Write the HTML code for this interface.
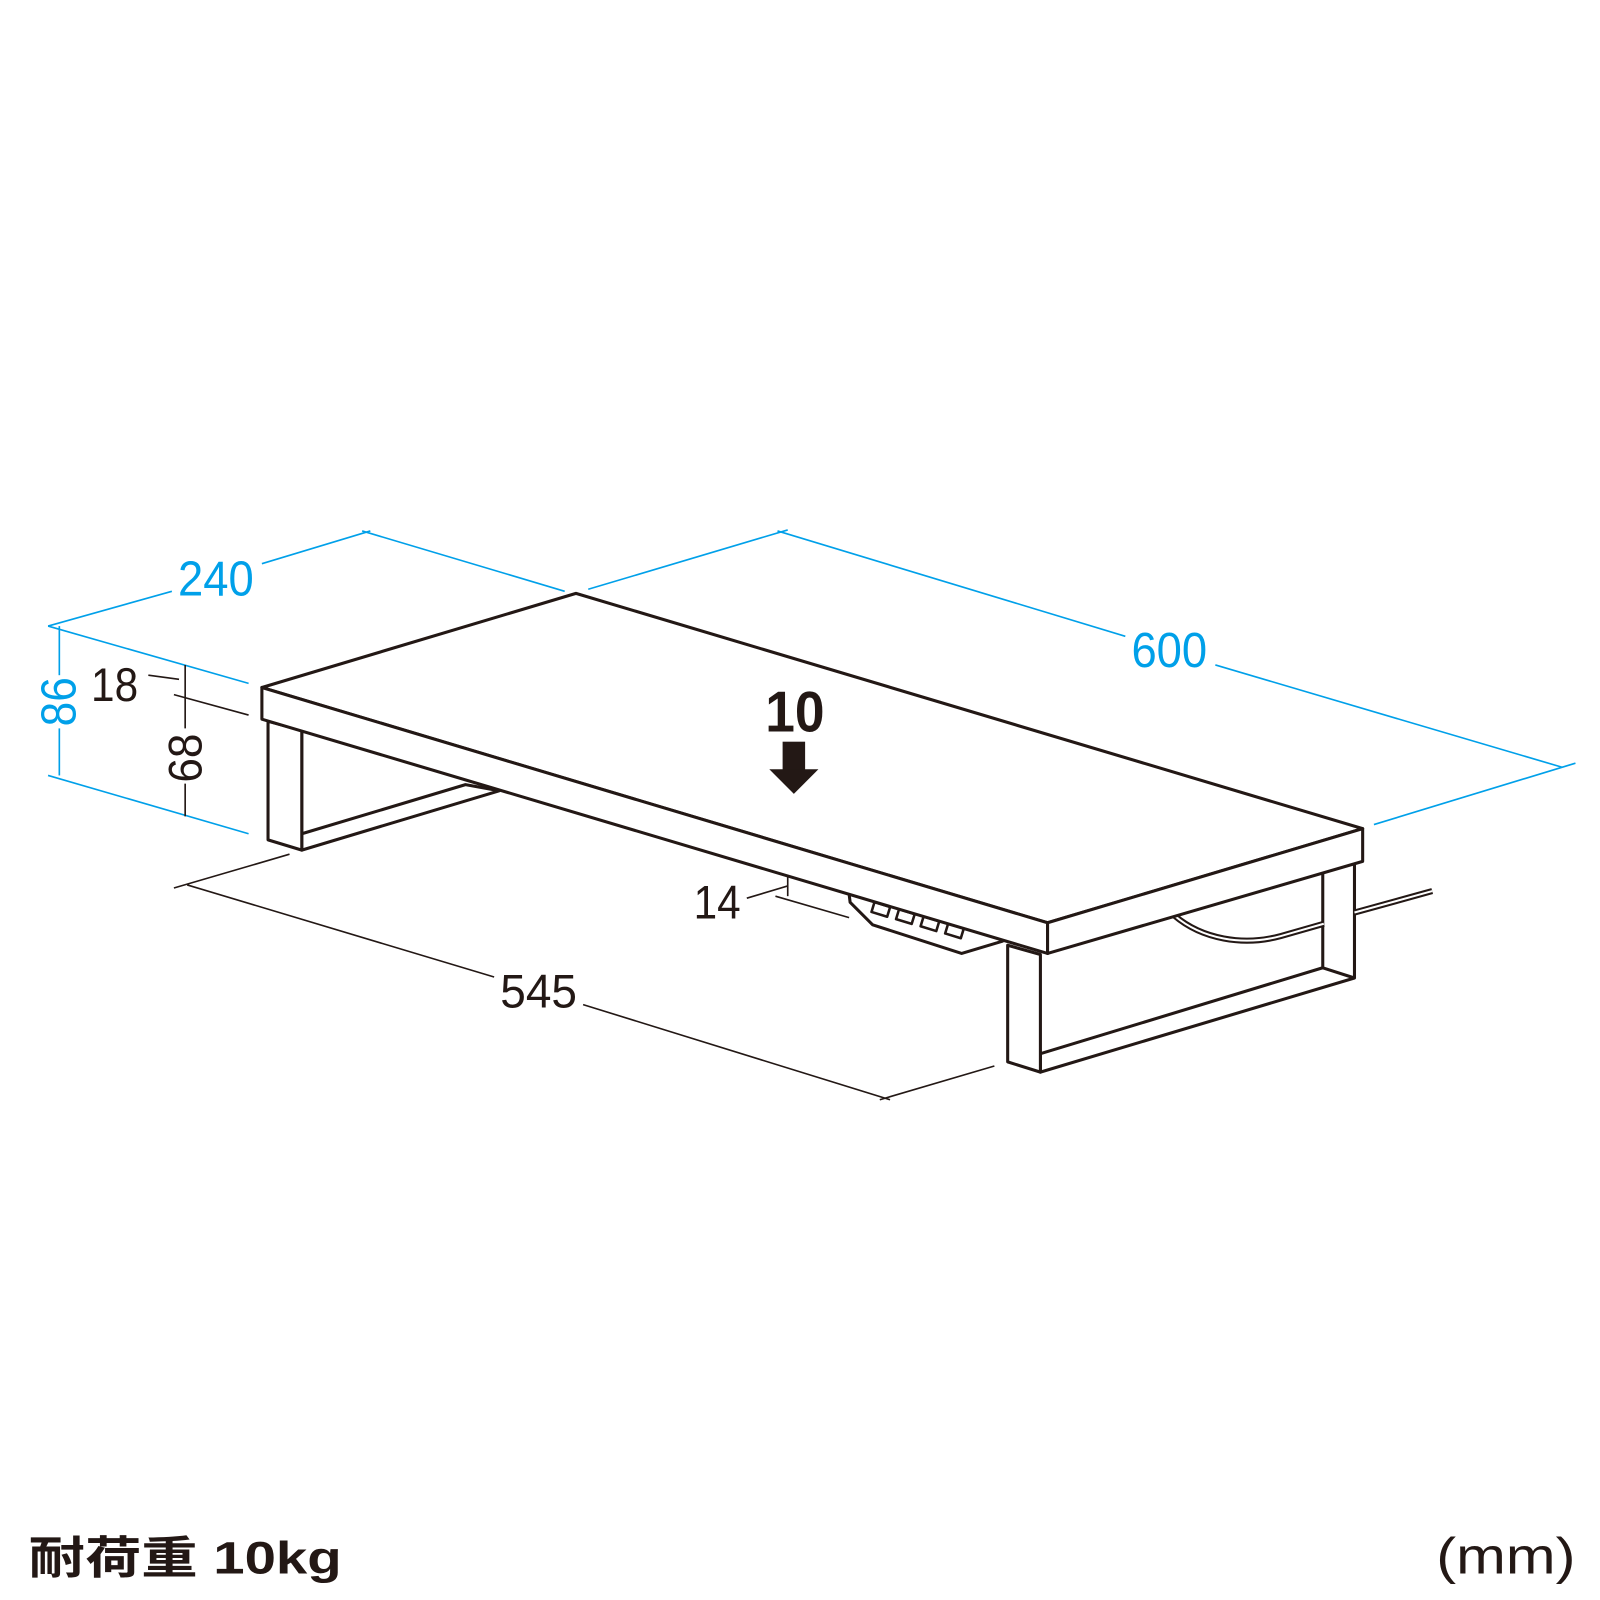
<!DOCTYPE html>
<html><head><meta charset="utf-8"><style>html,body{margin:0;padding:0;background:#fff}svg{display:block}</style></head>
<body>
<svg width="1600" height="1600" viewBox="0 0 1564 1564" xmlns="http://www.w3.org/2000/svg" font-family="Liberation Sans, sans-serif">
<g stroke="#00a0e9" stroke-width="1.6" fill="none">
<line x1="47" y1="612" x2="168" y2="578"/>
<line x1="256" y1="551" x2="362" y2="519"/>
<line x1="354" y1="519" x2="552" y2="578"/>
<line x1="575" y1="576" x2="770" y2="518"/>
<line x1="760" y1="519" x2="1100" y2="622"/>
<line x1="1188" y1="650" x2="1527" y2="750"/>
<line x1="1540" y1="746" x2="1343" y2="806"/>
<line x1="47" y1="612" x2="243" y2="668"/>
<line x1="47" y1="758" x2="243" y2="815"/>
<line x1="58" y1="612" x2="58" y2="660"/>
<line x1="58" y1="712" x2="58" y2="758"/>
</g>
<g fill="#00a0e9" font-size="48">
<text x="174" y="582" textLength="74" lengthAdjust="spacingAndGlyphs">240</text>
<text x="1106" y="652" textLength="74" lengthAdjust="spacingAndGlyphs">600</text>
<text transform="translate(74,710) rotate(-90)" textLength="48" lengthAdjust="spacingAndGlyphs">86</text>
</g>
<g stroke="#231815" stroke-width="1.6" fill="none">
<line x1="145" y1="660" x2="175" y2="664"/>
<line x1="170" y1="679" x2="243" y2="699"/>
<line x1="181" y1="650" x2="181" y2="712"/>
<line x1="181" y1="766" x2="181" y2="798"/>
<line x1="170" y1="868" x2="283" y2="835"/>
<line x1="183" y1="865" x2="483" y2="955"/>
<line x1="570" y1="982" x2="870" y2="1075"/>
<line x1="860" y1="1075" x2="972" y2="1042"/>
<line x1="730" y1="878" x2="770" y2="866"/>
<line x1="770" y1="856" x2="770" y2="876"/>
<line x1="758" y1="876" x2="830" y2="897"/>
</g>
<g fill="#231815" font-size="46">
<text x="89" y="685" textLength="46" lengthAdjust="spacingAndGlyphs">18</text>
<text transform="translate(197,765) rotate(-90)" textLength="48" lengthAdjust="spacingAndGlyphs">68</text>
<text x="678" y="898" textLength="46" lengthAdjust="spacingAndGlyphs">14</text>
<text x="489" y="985" textLength="75" lengthAdjust="spacingAndGlyphs">545</text>
</g>
<g stroke="#231815" stroke-width="3" fill="#fff" stroke-linejoin="round">
<!-- back leg + frame -->
<polygon points="1017,1030 1293,946 1324,956 1017,1048"/>
<line x1="1293" y1="851" x2="1293" y2="946"/>
<line x1="1324" y1="842" x2="1324" y2="956"/>
<!-- cable -->
<path d="M1148,895 C1175,918 1215,925 1252,915 L1294,903" fill="none" stroke-width="6"/>
<path d="M1148,895 C1175,918 1215,925 1252,915 L1294,903" fill="none" stroke="#fff" stroke-width="2"/>
<path d="M1324,892 L1400,871" fill="none" stroke-width="6"/>
<path d="M1324,892 L1400,871" fill="none" stroke="#fff" stroke-width="2"/>
<!-- hub -->
<polygon points="830,874 831,882 853,904 940,932 980,920 975,908"/>
<g stroke-width="2.5">
<rect x="853" y="884" width="16" height="10" transform="rotate(17 861 889)"/>
<rect x="877" y="891" width="16" height="10" transform="rotate(17 885 896)"/>
<rect x="901" y="898" width="16" height="10" transform="rotate(17 909 903)"/>
<rect x="925" y="905" width="16" height="10" transform="rotate(17 933 910)"/>
</g>
<!-- left leg -->
<polygon points="295,714 295,831 488,773 455,767 295,815" fill="none"/>
<polygon points="262,705 295,714 295,831 262,821"/>
<polygon points="985,924 1017,933 1017,1048 985,1038"/>
<!-- board -->
<polygon points="256,672 563,580 1332,810 1024,902"/>
<polygon points="256,672 1024,902 1024,932 256,703"/>
<polygon points="1024,902 1332,810 1332,842 1024,932"/>
</g>
<text x="748" y="715" font-weight="bold" font-size="56" fill="#231815" textLength="58" lengthAdjust="spacingAndGlyphs">10</text>
<rect x="765" y="725" width="22" height="28" fill="#231815"/>
<polygon points="752,752 800,752 776,776" fill="#231815"/>
<text x="28" y="1538" font-size="44" font-weight="bold" fill="#231815" font-family="Liberation Sans, Noto Sans CJK JP, sans-serif" textLength="306" lengthAdjust="spacingAndGlyphs">耐荷重 10kg</text>
<text x="1404" y="1538" font-size="50" fill="#231815" textLength="136" lengthAdjust="spacingAndGlyphs">(mm)</text>
</svg>
</body></html>
